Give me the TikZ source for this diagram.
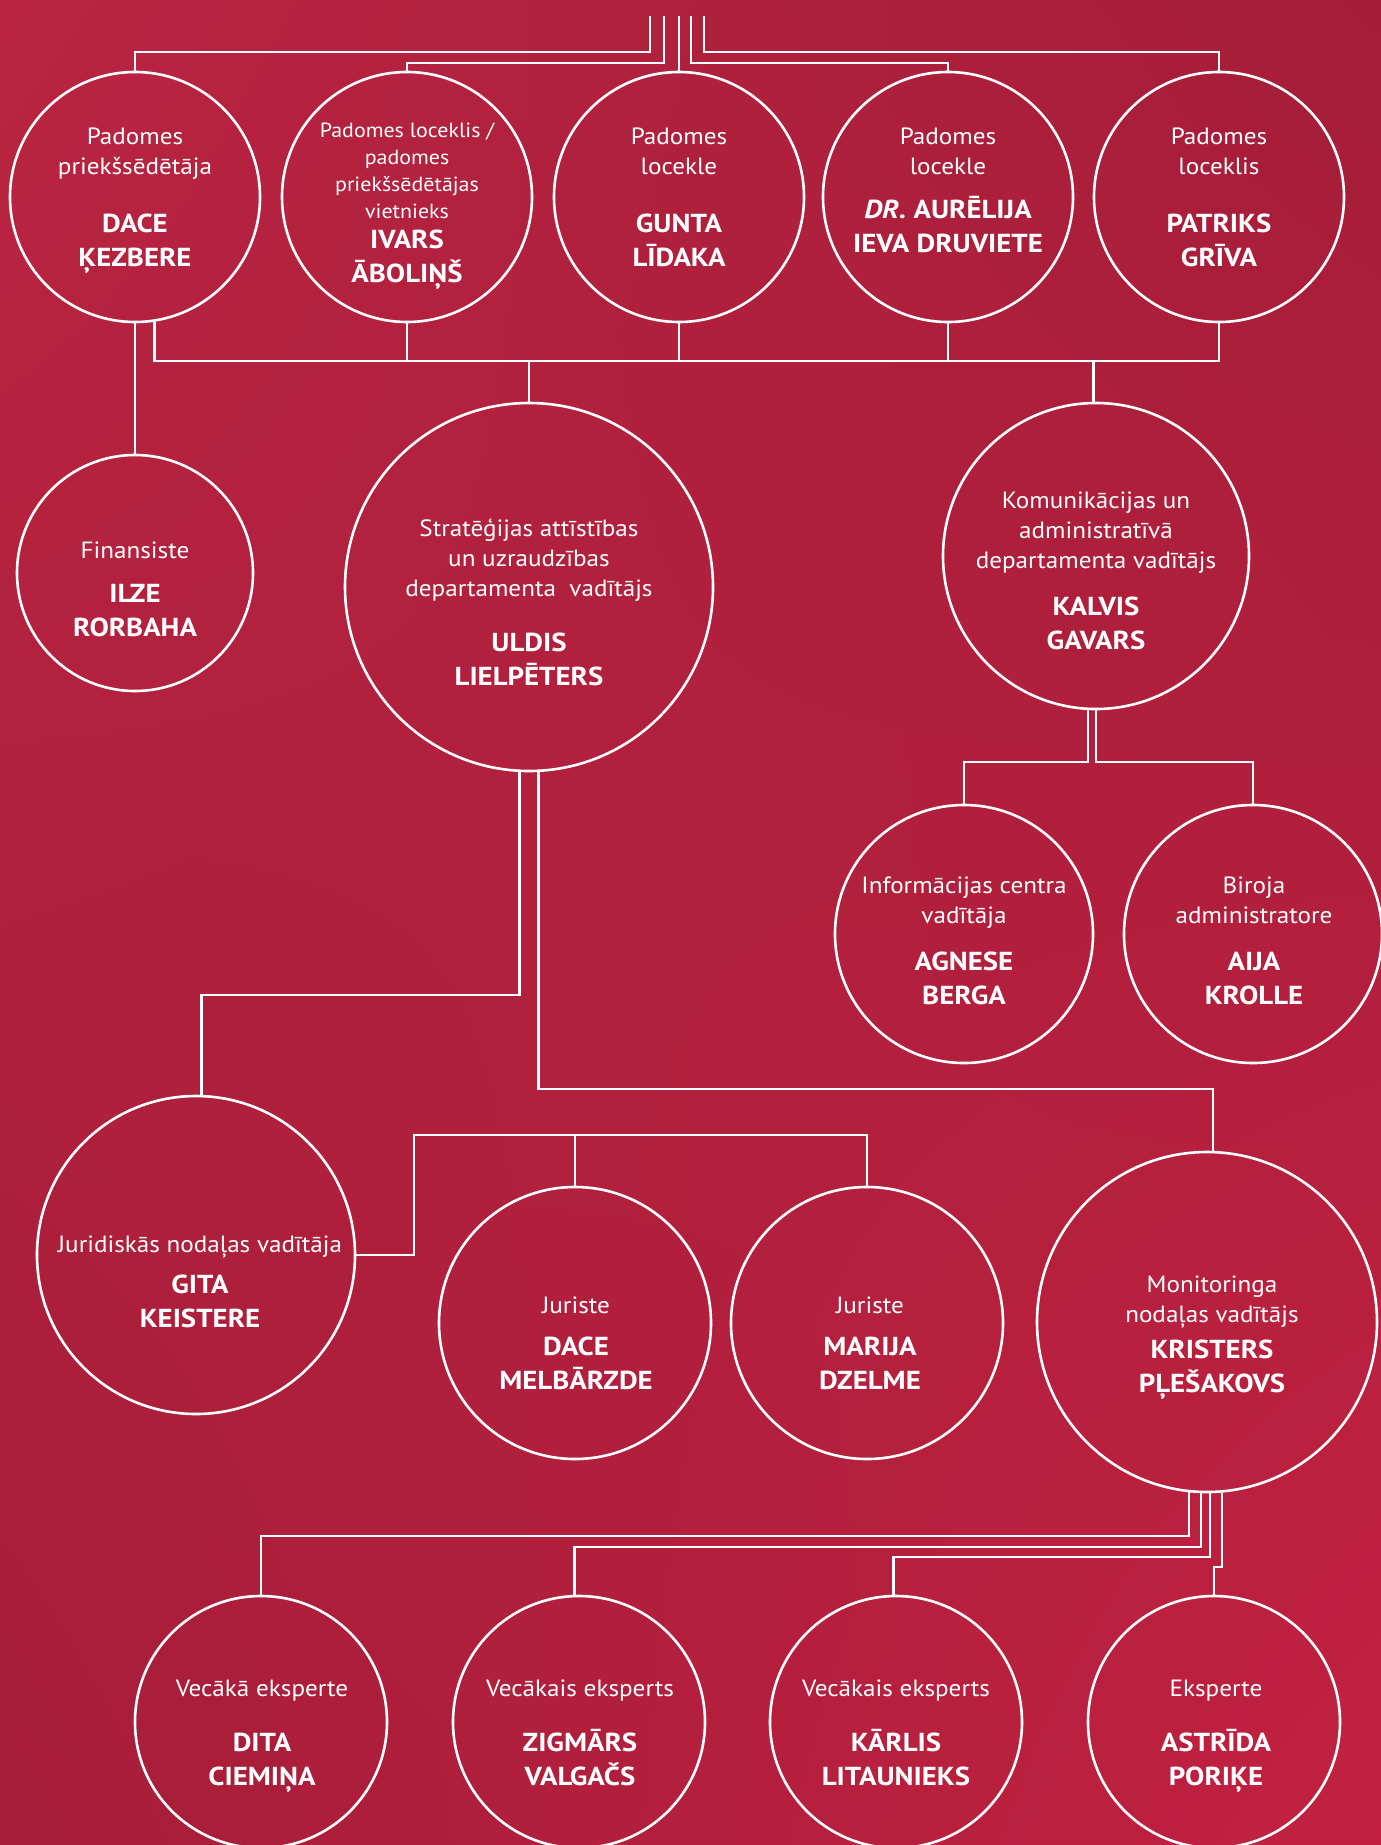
\documentclass[tikz,border=0pt]{standalone}
\usepackage{fontspec}
\setmainfont{PT Sans}
\newfontfamily\rolefont{PT Sans}[FakeStretch=1.07]
\newfontfamily\namefont{PT Sans}[FakeStretch=1.11]
\usetikzlibrary{shadings}
\definecolor{bgTL}{HTML}{BA2441}
\definecolor{bgTR}{HTML}{A41D38}
\definecolor{bgBL}{HTML}{A51D38}
\definecolor{bgBR}{HTML}{C22141}
\tikzset{
  person/.style={circle, draw=white, line width=2.6pt, inner sep=0pt},
  role/.style={text=white, align=center, inner sep=0pt, font=\rolefont\fontsize{23.5}{30}\selectfont},
  rolesmall/.style={text=white, align=center, inner sep=0pt, font=\rolefont\fontsize{20.5}{27}\selectfont},
  who/.style={text=white, align=center, inner sep=0pt, font=\namefont\bfseries\fontsize{26}{34}\selectfont},
  link/.style={draw=white, line width=2.6pt},
}
\begin{document}
\begin{tikzpicture}[x=1pt,y=-1pt]
\useasboundingbox (0,0) rectangle (1381,1845);
\shade[upper left=bgTL, upper right=bgTR, lower left=bgBL, lower right=bgBR] (0,0) rectangle (1381,1845);

% ---- circles
\node[person, minimum size=250pt] (dace) at (135,197) {};
\node[person, minimum size=250pt] (ivars) at (407,197) {};
\node[person, minimum size=250pt] (gunta) at (679,197) {};
\node[person, minimum size=250pt] (aurelija) at (948,197) {};
\node[person, minimum size=250pt] (patriks) at (1219,197) {};
\node[person, minimum size=236pt] (ilze) at (135,573) {};
\node[person, minimum size=368pt] (uldis) at (529,587) {};
\node[person, minimum size=306pt] (kalvis) at (1096,556) {};
\node[person, minimum size=258pt] (agnese) at (964,934) {};
\node[person, minimum size=258pt] (aija) at (1253,934) {};
\node[person, minimum size=318pt] (gita) at (196,1255) {};
\node[person, minimum size=272pt] (dacem) at (575,1323) {};
\node[person, minimum size=272pt] (marija) at (867,1323) {};
\node[person, minimum size=340pt] (kristers) at (1207,1322) {};
\node[person, minimum size=252pt] (dita) at (261,1722) {};
\node[person, minimum size=252pt] (zigmars) at (579,1722) {};
\node[person, minimum size=252pt] (karlis) at (896,1722) {};
\node[person, minimum size=252pt] (astrida) at (1214,1722) {};

% ---- texts
\node[role] (dace-r) at (135,153) {\strut Padomes\\\strut priekšsēdētāja};
\node[who]  (dace-n) at (135,243) {\strut DACE\\\strut ĶEZBERE};
\node[rolesmall] (ivars-r) at (407,172.5) {\strut Padomes loceklis /\\\strut padomes\\\strut priekšsēdētājas\\\strut vietnieks};
\node[who]  (ivars-n) at (407,259) {\strut IVARS\\\strut ĀBOLIŅŠ};
\node[role] (gunta-r) at (679,153) {\strut Padomes\\\strut locekle};
\node[who]  (gunta-n) at (679,243) {\strut GUNTA\\\strut LĪDAKA};
\node[role] (aurelija-r) at (948,153) {\strut Padomes\\\strut locekle};
\node[who]  (aurelija-n) at (948,228.5) {\strut \textit{DR.} AURĒLIJA\\\strut IEVA DRUVIETE};
\node[role] (patriks-r) at (1219,153) {\strut Padomes\\\strut loceklis};
\node[who]  (patriks-n) at (1219,243) {\strut PATRIKS\\\strut GRĪVA};
\node[role] (ilze-r) at (135,552) {\strut Finansiste};
\node[who]  (ilze-n) at (135,613) {\strut ILZE\\\strut RORBAHA};
\node[role] (uldis-r) at (529,560) {\strut Stratēģijas attīstības\\\strut un uzraudzības\\\strut departamenta\ \ vadītājs};
\node[who]  (uldis-n) at (529,662) {\strut ULDIS\\\strut LIELPĒTERS};
\node[role] (kalvis-r) at (1096,532.5) {\strut Komunikācijas un\\\strut administratīvā\\\strut departamenta vadītājs};
\node[who]  (kalvis-n) at (1096,626) {\strut KALVIS\\\strut GAVARS};
\node[role] (agnese-r) at (964,902.5) {\strut Informācijas centra\\\strut vadītāja};
\node[who]  (agnese-n) at (964,981) {\strut AGNESE\\\strut BERGA};
\node[role] (aija-r) at (1254,902.5) {\strut Biroja\\\strut administratore};
\node[who]  (aija-n) at (1254,981) {\strut AIJA\\\strut KROLLE};
\node[role] (gita-r) at (200,1246) {\strut Juridiskās nodaļas vadītāja};
\node[who]  (gita-n) at (200,1304) {\strut GITA\\\strut KEISTERE};
\node[role] (dacem-r) at (576,1307) {\strut Juriste};
\node[who]  (dacem-n) at (576,1365.5) {\strut DACE\\\strut MELBĀRZDE};
\node[role] (marija-r) at (870,1307) {\strut Juriste};
\node[who]  (marija-n) at (870,1365.5) {\strut MARIJA\\\strut DZELME};
\node[role] (kristers-r) at (1212,1301.5) {\strut Monitoringa\\\strut nodaļas vadītājs};
\node[who]  (kristers-n) at (1212,1368.5) {\strut KRISTERS\\\strut PĻEŠAKOVS};
\node[role] (dita-r) at (262,1690) {\strut Vecākā eksperte};
\node[who]  (dita-n) at (262,1762) {\strut DITA\\\strut CIEMIŅA};
\node[role] (zigmars-r) at (580,1690) {\strut Vecākais eksperts};
\node[who]  (zigmars-n) at (580,1762) {\strut ZIGMĀRS\\\strut VALGAČS};
\node[role] (karlis-r) at (896,1690) {\strut Vecākais eksperts};
\node[who]  (karlis-n) at (896,1762) {\strut KĀRLIS\\\strut LITAUNIEKS};
\node[role] (astrida-r) at (1216,1690) {\strut Eksperte};
\node[who]  (astrida-n) at (1216,1762) {\strut ASTRĪDA\\\strut PORIĶE};

% ---- connectors: top
\coordinate (t1) at (650,16);
\coordinate (t2) at (664,16);
\coordinate (t3) at (679,16);
\coordinate (t4) at (691,16);
\coordinate (t5) at (704,16);
\coordinate (yA) at (0,52);
\coordinate (yB) at (0,63);
\draw[link] (t1) -- (t1 |- yA) -| (dace.north);
\draw[link] (t2) -- (t2 |- yB) -| (ivars.north);
\draw[link] (t3) -- (gunta.north);
\draw[link] (t4) -- (t4 |- yB) -| (aurelija.north);
\draw[link] (t5) -- (t5 |- yA) -| (patriks.north);

% ---- board bus
\coordinate (yBus) at (0,361);
\draw[link] (dace.-81.7) -- (dace.-81.7 |- yBus) -| (patriks.south);
\draw[link] (ivars.south) -- (ivars.south |- yBus);
\draw[link] (gunta.south) -- (gunta.south |- yBus);
\draw[link] (aurelija.south) -- (aurelija.south |- yBus);
\draw[link] (uldis.north) -- (uldis.north |- yBus);
\draw[link] (kalvis.91.7) -- (kalvis.91.7 |- yBus);
\draw[link] (dace.south) -- (ilze.north);

% ---- Uldis
\coordinate (yG) at (0,995);
\coordinate (yK) at (0,1089);
\draw[link] (uldis.-93.7) -- (uldis.-93.7 |- yG) -| (gita.88.2);
\draw[link] (uldis.-87.8) -- (uldis.-87.8 |- yK) -| (kristers.88.6);

% ---- Kalvis
\coordinate (yKa) at (0,762);
\draw[link] (kalvis.-93.75) -- (kalvis.-93.75 |- yKa) -| (agnese.north);
\draw[link] (kalvis.-90.4) -- (kalvis.-90.4 |- yKa) -| (aija.north);

% ---- Gita
\coordinate (yJ) at (0,1135);
\coordinate (xJ) at (414,0);
\draw[link] (gita.east) -| (xJ |- yJ) -| (marija.north);
\draw[link] (dacem.north) -- (dacem.north |- yJ);

% ---- Kristers
\coordinate (yM1) at (0,1536);
\coordinate (yM2) at (0,1547);
\coordinate (yM3) at (0,1557);
\coordinate (yM4) at (0,1567);
\draw[link] (kristers.-96.1) -- (kristers.-96.1 |- yM1) -| (dita.north);
\draw[link] (kristers.-92.4) -- (kristers.-92.4 |- yM2) -| (zigmars.92.3);
\draw[link] (kristers.-89) -- (kristers.-89 |- yM3) -| (karlis.91.4);
\draw[link] (kristers.-85.6) -- (kristers.-85.6 |- yM4) -| (astrida.north);
\end{tikzpicture}
\end{document}
